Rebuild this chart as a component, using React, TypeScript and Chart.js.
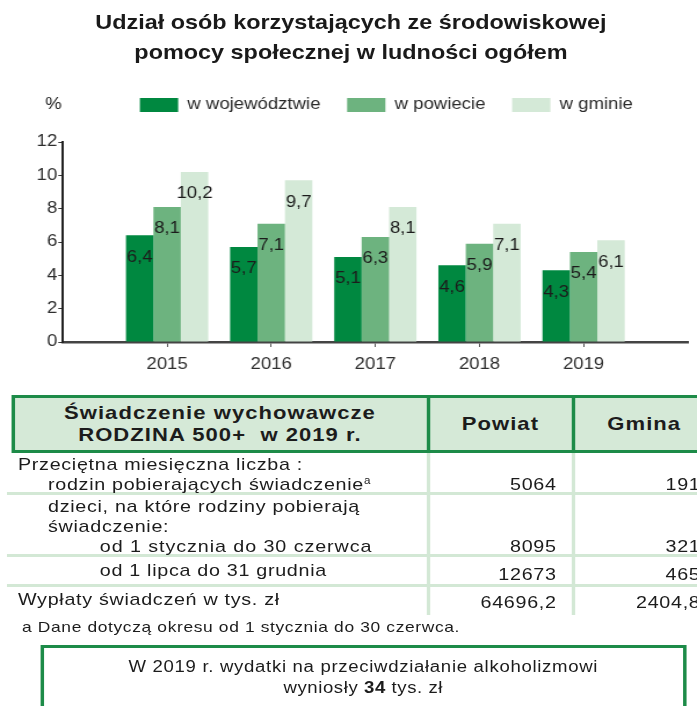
import React, { useEffect, useRef } from 'react';
import Chart from 'chart.js/auto';

// ---------- data ----------
const years = ['2015', '2016', '2017', '2018', '2019'];
const wWojewodztwie = [6.4, 5.7, 5.1, 4.6, 4.3];
const wPowiecie = [8.1, 7.1, 6.3, 5.9, 5.4];
const wGminie = [10.2, 9.7, 8.1, 7.1, 6.1];
const seriesNames = ['w województwie', 'w powiecie', 'w gminie'];
const seriesColors = ['#008840', '#6db37f', '#d4e9d7'];
const yMin = 0;
const yMax = 12;
const yStep = 2;
const unitLabel = '%';

const titleLines = ['Udział osób korzystających ze środowiskowej', 'pomocy społecznej w ludności ogółem'];

const tableHeadLines = ['Świadczenie wychowawcze', 'RODZINA 500+  w 2019 r.'];
const colHeads = ['Powiat', 'Gmina'];
const powiatValues = ['5064', '8095', '12673', '64696,2'];
const gminaValues = ['191', '321', '465', '2404,8'];
const footnote = 'a Dane dotyczą okresu od 1 stycznia do 30 czerwca.';
const boxLine1 = 'W 2019 r. wydatki na przeciwdziałanie alkoholizmowi';
const boxAmount = '34';

// ---------- layout ----------
const FONT = "'Liberation Sans', Arial, Helvetica, sans-serif";
const W = 601;
const SX = 697 / W;
const DARK = '#1d8b48';
const LIGHT = '#d3e8d5';
const TXT = '#1c1c1c';
const LEGEND_SHIFT = 9.5;

const fmt = (v: number) => v.toFixed(1).replace('.', ',');

const valueLabels = {
  id: 'valueLabels',
  afterDatasetsDraw(chart: any) {
    const ctx = chart.ctx;
    ctx.save();
    ctx.font = `16px ${FONT}`;
    ctx.fillStyle = TXT;
    ctx.textAlign = 'center';
    ctx.textBaseline = 'middle';
    chart.data.datasets.forEach((ds: any, i: number) => {
      const meta = chart.getDatasetMeta(i);
      meta.data.forEach((el: any, j: number) => {
        const v = ds.data[j];
        if (v == null) return;
        ctx.fillText(fmt(v), el.x, el.y + 22);
      });
    });
    ctx.restore();
  },
};

const legendShift = {
  id: 'legendShift',
  afterLayout(chart: any) {
    const lg = chart.legend;
    if (lg) {
      lg.left += LEGEND_SHIFT;
      lg.right += LEGEND_SHIFT;
    }
  },
};

const unitSign = {
  id: 'unitSign',
  afterDraw(chart: any) {
    const lg = chart.legend;
    if (!lg) return;
    const ctx = chart.ctx;
    ctx.save();
    ctx.font = `16px ${FONT}`;
    ctx.fillStyle = '#222';
    ctx.textAlign = 'center';
    ctx.textBaseline = 'middle';
    const y = lg.top + lg.options.labels.padding + 8;
    ctx.fillText(unitLabel, chart.chartArea.left - 8.3, y);
    ctx.restore();
  },
};

const Txt = ({ x, cy, children, size = 17, ls = 0.6, align = 'left', w = 0, bold = false }: any) => {
  const base: any = {
    position: 'absolute',
    top: cy - 11,
    height: 22,
    lineHeight: '22px',
    fontSize: size,
    letterSpacing: ls,
    whiteSpace: 'pre',
    color: TXT,
    fontWeight: bold ? 'bold' : 'normal',
  };
  if (align === 'left') return <div style={{ ...base, left: x }}>{children}</div>;
  if (align === 'right') return <div style={{ ...base, left: x - 300, width: 300, textAlign: 'right' }}>{children}</div>;
  return <div style={{ ...base, left: x, width: w, textAlign: 'center' }}>{children}</div>;
};

const Rect = ({ l, t, w, h, c }: any) => (
  <div style={{ position: 'absolute', left: l, top: t, width: w, height: h, background: c }} />
);

export default function App() {
  const ref = useRef<HTMLCanvasElement>(null);

  useEffect(() => {
    if (!ref.current) return;
    const series = [wWojewodztwie, wPowiecie, wGminie];
    const chart = new Chart(ref.current, {
      type: 'bar',
      data: {
        labels: ['', ...years, ''],
        datasets: seriesNames.map((name, i) => ({
          label: name,
          data: [null, ...series[i], null],
          backgroundColor: seriesColors[i],
          borderWidth: 0,
          categoryPercentage: 0.79,
          barPercentage: 1.0,
        })),
      },
      options: {
        responsive: false,
        animation: false,
        events: [],
        layout: { padding: { top: 74, left: 0, right: 7.9, bottom: 2.8 } },
        plugins: {
          title: { display: false },
          subtitle: {
            display: true,
            text: '',
            weight: 500,
            padding: 0,
            font: { size: 10, lineHeight: '19px' },
          } as any,
          legend: {
            display: true,
            position: 'top',
            fullSize: false,
            labels: {
              boxWidth: 33,
              boxHeight: 14,
              padding: 23,
              color: '#2a2a2a',
              font: { family: FONT, size: 16 },
            },
          },
          tooltip: { enabled: false },
        },
        scales: {
          x: {
            type: 'category',
            offset: false,
            z: 1,
            grid: {
              offset: false,
              drawOnChartArea: false,
              drawTicks: true,
              tickLength: 5,
              color: (c: any) => (c.index === 0 || c.index === years.length + 1 ? 'rgba(0,0,0,0)' : '#555'),
            },
            border: { display: true, color: '#444', width: 2.5 },
            ticks: {
              autoSkip: false,
              maxRotation: 0,
              padding: 8,
              color: '#2e2e2e',
              font: { family: FONT, size: 16 },
            },
          },
          y: {
            min: yMin,
            max: yMax,
            afterFit: (s: any) => {
              s.width = 54.3;
            },
            grid: { drawOnChartArea: false, tickLength: 4, color: '#333' },
            border: { display: true, color: '#222', width: 2 },
            ticks: {
              stepSize: yStep,
              padding: 1,
              color: '#2e2e2e',
              font: { family: FONT, size: 16 },
            },
          },
        },
      },
      plugins: [legendShift, valueLabels, unitSign],
    } as any);
    return () => chart.destroy();
  }, []);

  const rowLabelX1 = 15.5;
  const rowLabelX2 = 41.4;
  const rowLabelX3 = 86;
  const powRight = 480;
  const gmRight = 604;
  const C1 = 369;
  const C2 = 494;

  return (
    <div style={{ position: 'fixed', left: 0, top: 0, width: 697, height: 706, overflow: 'hidden', background: '#fff' }}>
      <div
        style={{
          position: 'absolute',
          left: 0,
          top: 0,
          width: W,
          height: 706,
          transform: `scaleX(${SX})`,
          transformOrigin: '0 0',
          fontFamily: FONT,
          color: TXT,
        }}
      >
        <canvas ref={ref} width={W} height={385} style={{ position: 'absolute', left: 0, top: 0 }} />

        {/* title */}
        <div
          style={{
            position: 'absolute',
            left: 0,
            top: 7,
            width: 605.2,
            textAlign: 'center',
            fontWeight: 'bold',
            fontSize: 20.2,
            lineHeight: '30px',
            color: '#1a1a1a',
          }}
        >
          {titleLines.map((l) => (
            <div key={l}>{l}</div>
          ))}
        </div>

        {/* table header */}
        <div
          style={{
            position: 'absolute',
            left: 10.3,
            top: 395,
            width: 640,
            height: 58,
            boxSizing: 'border-box',
            background: '#d5e9d7',
            border: `3px solid ${DARK}`,
          }}
        />
        <Rect l={C1 - 1.5} t={395} w={3} h={58} c={DARK} />
        <Rect l={C2 - 1.5} t={395} w={3} h={58} c={DARK} />
        <Txt x={10.3} w={C1 - 10.3} cy={413} align="center" bold size={19} ls={0.9}>
          {tableHeadLines[0]}
        </Txt>
        <Txt x={10.3} w={C1 - 10.3} cy={435} align="center" bold size={19} ls={0.9}>
          {tableHeadLines[1]}
        </Txt>
        <Txt x={C1} w={C2 - C1} cy={424} align="center" bold size={19} ls={0.9}>
          {colHeads[0]}
        </Txt>
        <Txt x={C2} w={123} cy={424} align="center" bold size={19} ls={0.9}>
          {colHeads[1]}
        </Txt>

        {/* table body grid */}
        <Rect l={6} t={493 - 1.5} w={640} h={3} c={LIGHT} />
        <Rect l={6} t={555 - 1.5} w={640} h={3} c={LIGHT} />
        <Rect l={6} t={585 - 1.5} w={640} h={3} c={LIGHT} />
        <Rect l={C1 - 1.5} t={453} w={3} h={162} c={LIGHT} />
        <Rect l={C2 - 1.5} t={453} w={3} h={162} c={LIGHT} />

        {/* table body text */}
        <Txt x={rowLabelX1} cy={465}>Przeciętna miesięczna liczba :</Txt>
        <Txt x={rowLabelX2} cy={485}>
          rodzin pobierających świadczenie
          <span style={{ fontSize: 10, position: 'relative', top: -6, letterSpacing: 0 }}>a</span>
        </Txt>
        <Txt x={rowLabelX2} cy={507}>dzieci, na które rodziny pobierają</Txt>
        <Txt x={rowLabelX2} cy={527}>świadczenie:</Txt>
        <Txt x={rowLabelX3} cy={547} ls={0.8}>od 1 stycznia do 30 czerwca</Txt>
        <Txt x={rowLabelX3} cy={571}>od 1 lipca do 31 grudnia</Txt>
        <Txt x={rowLabelX1} cy={600}>Wypłaty świadczeń w tys. zł</Txt>

        <Txt x={powRight} cy={485} align="right">{powiatValues[0]}</Txt>
        <Txt x={powRight} cy={547} align="right">{powiatValues[1]}</Txt>
        <Txt x={powRight} cy={575} align="right">{powiatValues[2]}</Txt>
        <Txt x={powRight} cy={603} align="right">{powiatValues[3]}</Txt>
        <Txt x={gmRight} cy={485} align="right">{gminaValues[0]}</Txt>
        <Txt x={gmRight} cy={547} align="right">{gminaValues[1]}</Txt>
        <Txt x={gmRight} cy={575} align="right">{gminaValues[2]}</Txt>
        <Txt x={gmRight} cy={603} align="right">{gminaValues[3]}</Txt>

        {/* footnote */}
        <Txt x={19} cy={627} size={15} ls={0.55}>{footnote}</Txt>

        {/* info box */}
        <div
          style={{
            position: 'absolute',
            left: 34.5,
            top: 645,
            width: 557.5,
            height: 100,
            boxSizing: 'border-box',
            border: `3px solid ${DARK}`,
          }}
        />
        <Txt x={34.5} w={557.5} cy={667} align="center" size={16} ls={0.6}>{boxLine1}</Txt>
        <Txt x={34.5} w={557.5} cy={688} align="center" size={16} ls={0.5}>
          wyniosły <b>{boxAmount}</b> tys. zł
        </Txt>
      </div>
    </div>
  );
}
